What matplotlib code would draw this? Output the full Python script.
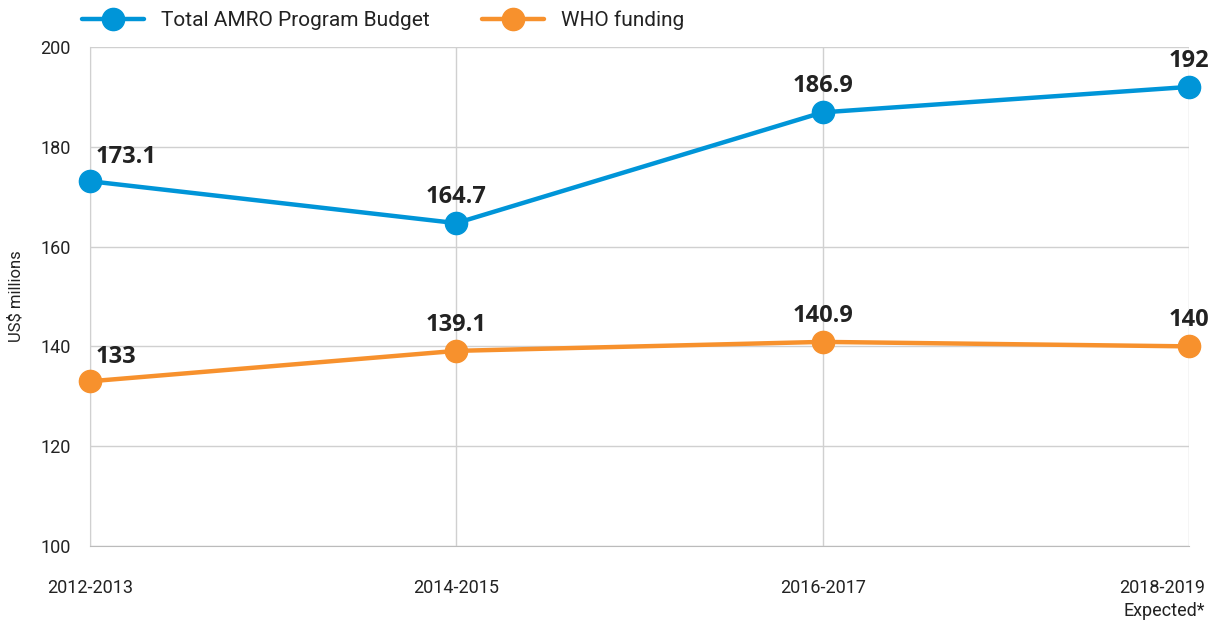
import matplotlib
matplotlib.use('Agg')
import matplotlib.pyplot as plt
from matplotlib.transforms import ScaledTranslation

# Data
periods = ['2012-2013', '2014-2015', '2016-2017', '2018-2019\nExpected*']
amro_budget = [173.1, 164.7, 186.9, 192]
who_funding = [133, 139.1, 140.9, 140]
amro_labels = ['173.1', '164.7', '186.9', '192']
who_labels = ['133', '139.1', '140.9', '140']

blue = '#0095d8'
orange = '#f7912d'
grid_col = '#d0d0d0'
text_col = '#222222'

plt.rcParams['font.family'] = ['Roboto', 'DejaVu Sans']

fig = plt.figure(figsize=(12.15, 6.29), dpi=100)
ax = fig.add_axes([0.074, 0.132, 0.9046, 0.7933])

x = list(range(len(periods)))
ax.plot(x, amro_budget, color=blue, lw=3.2, marker='o', ms=16, label='Total AMRO Program Budget',
        solid_capstyle='round', zorder=3, clip_on=False)
ax.plot(x, who_funding, color=orange, lw=3.2, marker='o', ms=16, label='WHO funding',
        solid_capstyle='round', zorder=3, clip_on=False)

def put_labels(vals, texts):
    for i, (v, t) in enumerate(zip(vals, texts)):
        if i == 0:
            ax.annotate(t, (i, v), xytext=(4, 9), textcoords='offset points', ha='left', va='bottom',
                        fontsize=17, fontweight='bold', color=text_col, family='Open Sans')
        else:
            ax.annotate(t, (i, v), xytext=(0, 10), textcoords='offset points', ha='center',
                        va='bottom', fontsize=17, fontweight='bold', color=text_col,
                        family='Open Sans')

put_labels(amro_budget, amro_labels)
put_labels(who_funding, who_labels)

ax.set_xlim(0, 3)
ax.set_ylim(100, 200)
ax.set_yticks([100, 120, 140, 160, 180, 200])
ax.set_xticks(x)
ax.set_xticklabels(periods, fontsize=13, color=text_col, linespacing=1.35, va='top')
ax.tick_params(axis='x', length=0, pad=24)
ax.tick_params(axis='y', length=0, pad=14, labelsize=13, labelcolor=text_col)
ax.grid(True, color=grid_col, lw=1)
ax.set_axisbelow(True)
for s in ax.spines.values():
    s.set_visible(False)
ax.spines['left'].set_visible(True)
ax.spines['left'].set_color(grid_col)
ax.spines['bottom'].set_visible(True)
ax.spines['bottom'].set_color('#bbbbbb')
ax.set_ylabel('US$ millions', fontsize=12, color=text_col, labelpad=12)

# last tick label sits right-aligned just past the axis edge
last = ax.get_xticklabels()[-1]
last.set_horizontalalignment('right')
last.set_multialignment('right')
last.set_transform(last.get_transform() + ScaledTranslation(16 / 100, 0, fig.dpi_scale_trans))

ax.legend(loc='upper left', bbox_to_anchor=(-0.015, 1.09), ncol=2, frameon=False, fontsize=15,
          handlelength=3, columnspacing=2.5, labelcolor=text_col, borderaxespad=0)

fig.savefig('out.png', dpi=100)
